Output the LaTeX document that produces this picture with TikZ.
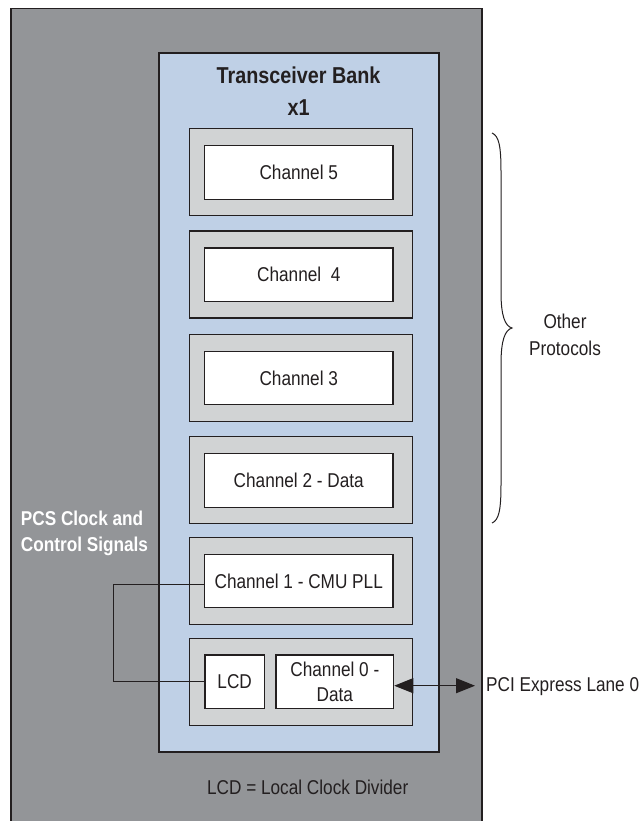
\documentclass[tikz,border=0pt]{standalone}
\usepackage{fontspec}
\setmainfont{Liberation Sans}[FakeStretch=0.86]
\usetikzlibrary{arrows.meta}
\definecolor{outergray}{RGB}{147,149,152}
\definecolor{bankblue}{RGB}{191,208,230}
\definecolor{chgray}{RGB}{209,211,212}
\definecolor{ink}{RGB}{35,31,32}
\tikzset{
  grp/.style={draw=ink, fill=chgray, line width=1.1pt},
  chbox/.style={draw=ink, fill=white, line width=1.1pt, inner sep=0pt, font=\fontsize{20}{25}\selectfont, text=ink, align=center},
  lbl/.style={inner sep=0pt, font=\fontsize{20}{26.7}\selectfont, text=ink, align=center},
  conn/.style={draw=ink, line width=1pt},
  bighead/.style={{Triangle[length=19pt,width=15pt]}-{Triangle[length=19pt,width=15pt]}},
}
\begin{document}
\begin{tikzpicture}[x=1pt,y=-1pt]
\useasboundingbox (0,0) rectangle (643,821);
% outer gray region
\begin{scope}
\clip (0,0) rectangle (643,821);
\draw[draw=ink, fill=outergray, line width=1.3pt] (11,8.5) rectangle (482,830);
\end{scope}
% transceiver bank
\draw[draw=ink, fill=bankblue, line width=1.1pt] (159,53) rectangle (439,752);
\node[inner sep=0pt, font=\fontsize{23}{33}\selectfont\bfseries, text=ink] (title) at (298.5,75) {Transceiver Bank};
\node[inner sep=0pt, font=\fontsize{23}{33}\selectfont\bfseries, text=ink] (mult) at (298.5,108) {x1};
% channel groups
\foreach \t in {128.7,231,334.3,436.7,537.3,638.3}{
  \draw[grp] (189.5,\t) rectangle (412.7,\t+87);
}
\node[chbox, minimum width=188.5pt, minimum height=53.5pt] (ch5) at (298.75,172.45) {Channel 5};
\node[chbox, minimum width=188.5pt, minimum height=53.5pt] (ch4) at (298.75,274.75) {Channel\ \ 4};
\node[chbox, minimum width=188.5pt, minimum height=53.5pt] (ch3) at (298.75,378.05) {Channel 3};
\node[chbox, minimum width=188.5pt, minimum height=53.5pt] (ch2) at (298.75,480.45) {Channel 2 - Data};
\node[chbox, minimum width=188.5pt, minimum height=53.5pt] (ch1) at (298.75,581.05) {Channel 1 - CMU PLL};
\node[chbox, minimum width=59.3pt, minimum height=53.3pt] (lcd) at (234.65,681.65) {LCD};
\node[chbox, minimum width=117.7pt, minimum height=53.3pt] (ch0) at (334.85,681.65) {Channel 0 -\\Data};
% PCS clock and control signals
\node[inner sep=0pt, anchor=west, align=left, text=white, font=\fontsize{20}{26.7}\selectfont\bfseries] (pcs) at (20.7,533.3) {PCS Clock and\\Control Signals};
\coordinate (bend) at (113.3,584);
\draw[conn] (ch1.west |- bend) -- (bend) |- (lcd.west);
% PCI express
\node[lbl, anchor=west] (pci) at (486,687) {PCI Express Lane 0};
\coordinate (pciend) at (475,685.7);
\draw[conn, bighead] (ch0.east |- pciend) -- (pciend);
% brace
\draw[ink, line width=1pt] (492,133) .. controls (499,136) and (501,146) .. (501,172) -- (501,292)
  .. controls (501,316) and (505,326) .. (512,328)
  .. controls (505,330) and (501,340) .. (501,364) -- (501,484)
  .. controls (501,510) and (499,520) .. (492,523);
\node[lbl] (other) at (565,334.5) {Other\\Protocols};
% legend
\node[lbl] (legend) at (307.7,787.3) {LCD = Local Clock Divider};
\end{tikzpicture}
\end{document}
